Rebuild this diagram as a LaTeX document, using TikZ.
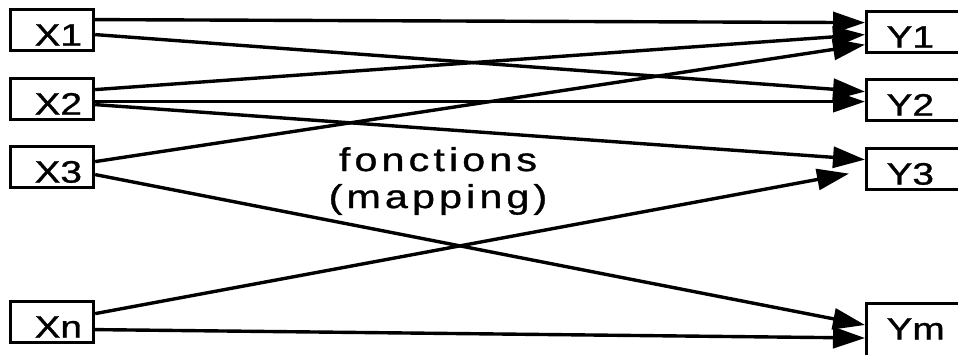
\documentclass[tikz,border=0pt]{standalone}
\usepackage{fontspec}
\usetikzlibrary{arrows.meta,positioning}
\newfontfamily\labfont[FakeBold=0.9]{Liberation Sans}
\newfontfamily\mapfont[LetterSpace=10,FakeBold=0.9]{Liberation Sans}
\newcommand{\wide}[1]{\scalebox{1.25}[1]{#1}}
\tikzset{
  boite/.style={draw, line width=3.2pt, anchor=north west, minimum height=41pt,
                inner sep=0pt, text height=36pt, text depth=5pt, align=left,
                font=\labfont\fontsize{31}{31}\selectfont},
  entree/.style={boite, text width=83pt},
  sortie/.style={boite, text width=130pt},
  arr/.style={-{Triangle[length=32pt,width=21pt]}, line width=3.4pt},
}
\begin{document}
\begin{tikzpicture}[x=1pt, y=-1pt]
    \clip (0,0) rectangle (958,354);
    % entrees
    \node[entree] (x1) at (9,8)   {\hspace*{24pt}\wide{X1}};
    \node[entree] (x2) at (9,77)  {\hspace*{24pt}\wide{X2}};
    \node[entree] (x3) at (9,145) {\hspace*{24pt}\wide{X3}};
    \node[entree] (xn) at (9,300) {\hspace*{24pt}\wide{Xn}};
    % sorties
    \node[sortie] (y1) at (865,10)  {\hspace*{20pt}\wide{Y1}};
    \node[sortie] (y2) at (865,78)  {\hspace*{20pt}\wide{Y2}};
    \node[sortie] (y3) at (865,147) {\hspace*{20pt}\wide{Y3}};
    \node[sortie, text depth=50pt] (ym) at (865,302) {\hspace*{20pt}\wide{Ym}};
    \node[font=\mapfont\fontsize{33}{37}\selectfont, align=center] (map) at (438,181)
      {\wide{fonctions}\\\wide{(mapping)}};
    % fonctions
    \draw[arr] ([yshift=10.5pt]x1.east) -- ([yshift=9.5pt]y1.west);
    \draw[arr] ([yshift=-4.5pt]x1.east) -- ([yshift=8.5pt]y2.west);
    \draw[arr] ([yshift=9.5pt]x2.east) -- ([yshift=-2.5pt]y1.west);
    \draw[arr] ([yshift=-2.5pt]x2.east) -- ([yshift=-1.5pt]y2.west);
    \draw[arr] ([yshift=-5.5pt]x2.east) -- ([yshift=9.5pt]y3.west);
    \draw[arr] ([yshift=5.5pt]x3.east) -- ([yshift=-12.5pt]y1.west);
    \draw[arr] ([yshift=-7.5pt]x3.east) -- ([yshift=-23pt]ym.north west);
    \draw[arr] ([yshift=8.5pt]xn.east) -- ([xshift=-16pt,yshift=-4.5pt]y3.west);
    \draw[arr] ([yshift=-7.5pt]xn.east) -- ([yshift=-36pt]ym.north west);
\end{tikzpicture}
\end{document}
